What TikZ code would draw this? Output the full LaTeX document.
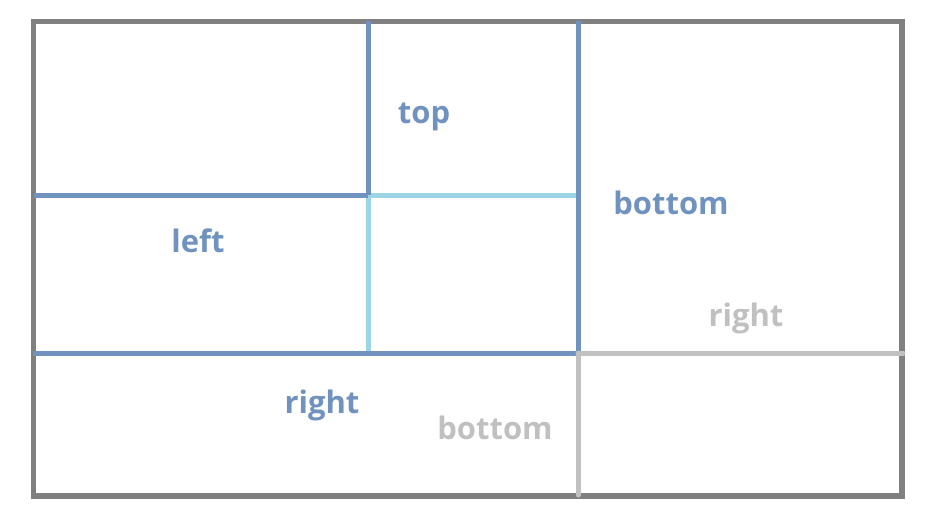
\documentclass[tikz,border=0pt]{standalone}
\usepackage{fontspec}
\setmainfont{Open Sans}
\definecolor{lineblue}{RGB}{112,146,190}
\definecolor{lightcyan}{RGB}{155,213,230}
\definecolor{framegray}{RGB}{128,128,128}
\definecolor{softgray}{RGB}{192,192,192}
\tikzset{
  frameline/.style={draw=framegray,line width=5.5pt},
  blueline/.style={draw=lineblue,line width=5pt},
  cyanline/.style={draw=lightcyan,line width=5pt},
  grayline/.style={draw=softgray,line width=5pt,line cap=round},
  lbl/.style={font=\bfseries\fontsize{31}{33}\selectfont,anchor=base,inner sep=0pt},
  bluelbl/.style={lbl,text=lineblue},
  graylbl/.style={lbl,text=softgray}
}
\begin{document}
\begin{tikzpicture}[x=1pt,y=-1pt]
\useasboundingbox (0,0) rectangle (939,519);
% corner coordinates
\coordinate (TL) at (33.5,21.5);
\coordinate (BR) at (902,496);
\coordinate (t1) at (368,21.5);
\coordinate (t2) at (578,21.5);
\coordinate (m0) at (33.5,195);
\coordinate (m1) at (368,195);
\coordinate (m2) at (578,195);
\coordinate (b0) at (33,353);
\coordinate (b1) at (368,353);
\coordinate (b2) at (578,353);
\coordinate (b3) at (903,353);
\coordinate (bb) at (578,495);
% frame
\draw[frameline] (TL) rectangle (BR);
% cyan box
\draw[cyanline] (m1) -- (m2);
\draw[cyanline] (m1) -- (b1);
% blue lines
\draw[blueline] (t1) -- (m1);
\draw[blueline] (m0) -- (m1);
\draw[blueline] (t2) -- (b2);
\draw[blueline] (b0) -- (b2);
% gray lines
\draw[grayline] (b2) -- (b3);
\draw[grayline] (b2) -- (bb);
% labels
\node[bluelbl] (top) at (424,123) {top};
\node[bluelbl] (bottom1) at (671,214) {bottom};
\node[bluelbl] (left) at (198,252) {left};
\node[bluelbl] (right1) at (322,413) {right};
\node[graylbl] (bottom2) at (495,439) {bottom};
\node[graylbl] (right2) at (746,326) {right};
\end{tikzpicture}
\end{document}
